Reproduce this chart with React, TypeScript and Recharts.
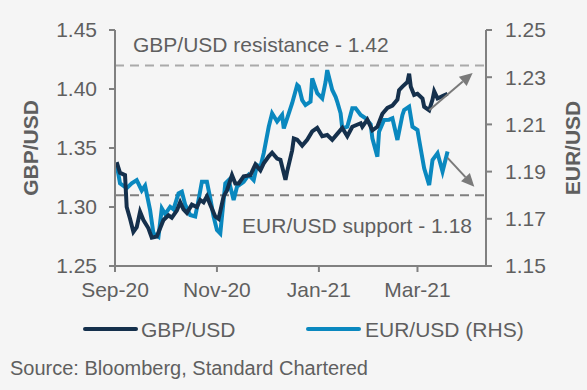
import { LineChart, Line, XAxis, YAxis, ReferenceLine } from "recharts";

const xTicks = [0, 61, 122, 181];
const xTickLabels = ["Sep-20", "Nov-20", "Jan-21", "Mar-21"];
const leftTicks = [1.25, 1.3, 1.35, 1.4, 1.45];
const rightTicks = [1.15, 1.17, 1.19, 1.21, 1.23, 1.25];

// days since 1 Sep 2020
const gbpDays = [
  1, 3, 6, 7, 9, 11, 13, 15, 17, 20, 22, 25, 27, 29, 32, 34, 37, 39, 41, 43, 46, 49, 51, 53, 55, 57,
  60, 62, 65, 67, 70, 72, 74, 77, 81, 84, 87, 89, 92, 94, 97, 99, 102, 103, 106, 107, 109, 112, 115,
  118, 121, 124, 127, 130, 133, 136, 139, 142, 147, 148, 151, 154, 157, 160, 163, 166, 169, 170, 172,
  175, 176, 177, 179, 181, 184, 185, 188, 190, 191, 193, 196, 199,
];
const gbpValues = [
  1.338, 1.329, 1.327, 1.3, 1.29, 1.279, 1.283, 1.296, 1.289, 1.282, 1.274, 1.275, 1.282, 1.289, 1.293,
  1.291, 1.297, 1.304, 1.298, 1.295, 1.302, 1.3, 1.306, 1.304, 1.309, 1.302, 1.292, 1.29, 1.309, 1.314,
  1.327, 1.32, 1.32, 1.326, 1.327, 1.336, 1.331, 1.337, 1.343, 1.346, 1.341, 1.34, 1.323, 1.33, 1.348,
  1.358, 1.357, 1.352, 1.357, 1.364, 1.367, 1.36, 1.361, 1.357, 1.362, 1.367, 1.36, 1.368, 1.371, 1.368,
  1.374, 1.365, 1.368, 1.379, 1.384, 1.386, 1.391, 1.399, 1.402, 1.406, 1.413, 1.402, 1.395, 1.396,
  1.392, 1.385, 1.382, 1.391, 1.398, 1.392, 1.394, 1.396,
];

const eurDays = [
  1, 3, 7, 10, 13, 16, 18, 21, 23, 26, 28, 30, 33, 35, 38, 40, 42, 45, 48, 50, 52, 55, 57, 59, 61, 63,
  66, 68, 71, 73, 77, 80, 83, 85, 87, 89, 92, 94, 97, 100, 101, 103, 106, 109, 110, 112, 114, 117, 118,
  121, 124, 126, 127, 130, 132, 133, 135, 136, 139, 142, 144, 147, 150, 153, 154, 157, 158, 161, 164,
  166, 169, 172, 173, 176, 178, 181, 182, 185, 188, 190, 193, 196, 199,
];
const eurValues = [
  1.193, 1.185, 1.183, 1.185, 1.1864, 1.182, 1.184, 1.1737, 1.1638, 1.1624, 1.1744, 1.172, 1.1751, 1.174,
  1.1808, 1.1815, 1.176, 1.1716, 1.171, 1.178, 1.1857, 1.1857, 1.1787, 1.1709, 1.1653, 1.1638, 1.185,
  1.1864, 1.178, 1.1836, 1.1857, 1.1886, 1.1864, 1.1928, 1.192, 1.1978, 1.209, 1.2147, 1.2112, 1.214,
  1.2083, 1.2126, 1.219, 1.2267, 1.226, 1.2203, 1.2182, 1.2196, 1.2295, 1.2232, 1.221, 1.228, 1.233,
  1.2246, 1.2217, 1.2196, 1.2147, 1.2083, 1.209, 1.2168, 1.2168, 1.214, 1.2126, 1.21, 1.2041, 1.1963,
  1.2069, 1.2119, 1.212, 1.2126, 1.2034, 1.214, 1.2161, 1.2175, 1.209, 1.2076, 1.2034, 1.1914, 1.1843,
  1.1949, 1.1978, 1.19, 1.1985,
];

const gbpData = gbpDays.map((d, i) => ({ day: d, gbp: gbpValues[i] }));
const eurData = eurDays.map((d, i) => ({ day: d, eur: eurValues[i] }));

const FONT = "'Liberation Sans', Arial, Helvetica, sans-serif";
const TEXT = "#5f5f5f";
const AXIS = "#808080";

const arrowShape = (props: any) => {
  const { x1, y1, x2, y2 } = props;
  const a = Math.atan2(y2 - y1, x2 - x1);
  const len = 13;
  const w = 6;
  const bx = x2 - len * Math.cos(a);
  const by = y2 - len * Math.sin(a);
  const p1 = `${bx + w * Math.sin(a)},${by - w * Math.cos(a)}`;
  const p2 = `${bx - w * Math.sin(a)},${by + w * Math.cos(a)}`;
  return (
    <g>
      <line x1={x1} y1={y1} x2={bx} y2={by} stroke="#7a7a7a" strokeWidth={2} />
      <polygon points={`${x2},${y2} ${p1} ${p2}`} fill="#7a7a7a" />
    </g>
  );
};

export default function App() {
  return (
    <div
      style={{
        position: "relative",
        width: 587,
        height: 390,
        background: "#f5f5f5",
        fontFamily: FONT,
        color: TEXT,
        overflow: "hidden",
      }}
    >
      <style>{"body{margin:0}"}</style>
      <LineChart width={587} height={310} margin={{ top: 30, right: 0, left: 0, bottom: 0 }}>
        <XAxis
          dataKey="day"
          type="number"
          domain={[0, 222]}
          ticks={xTicks}
          tickFormatter={(v: number) => xTickLabels[xTicks.indexOf(v)] ?? ""}
          height={44}
          tickSize={6}
          tickMargin={10}
          axisLine={{ stroke: AXIS, strokeWidth: 2 }}
          tickLine={{ stroke: AXIS, strokeWidth: 2 }}
          tick={{ fill: TEXT, fontSize: 21, fontFamily: FONT }}
          allowDataOverflow
        />
        <YAxis
          yAxisId="left"
          domain={[1.25, 1.45]}
          ticks={leftTicks}
          tickFormatter={(v: number) => v.toFixed(2)}
          width={115}
          tickSize={6}
          tickMargin={12}
          axisLine={{ stroke: AXIS, strokeWidth: 2 }}
          tickLine={{ stroke: AXIS, strokeWidth: 2 }}
          tick={{ fill: TEXT, fontSize: 21, fontFamily: FONT }}
          allowDataOverflow
        />
        <YAxis
          yAxisId="right"
          orientation="right"
          domain={[1.15, 1.25]}
          ticks={rightTicks}
          tickFormatter={(v: number) => v.toFixed(2)}
          width={101}
          tickSize={6}
          tickMargin={13}
          axisLine={{ stroke: AXIS, strokeWidth: 2 }}
          tickLine={{ stroke: AXIS, strokeWidth: 2 }}
          tick={{ fill: TEXT, fontSize: 21, fontFamily: FONT, textAnchor: "start" }}
          allowDataOverflow
        />
        <ReferenceLine yAxisId="left" y={1.42} stroke="#aaaaaa" strokeWidth={2} strokeDasharray="9 6" />
        <ReferenceLine yAxisId="left" y={1.31} stroke="#7f7f7f" strokeWidth={2} strokeDasharray="9 6" />
        <Line
          yAxisId="right"
          data={eurData}
          dataKey="eur"
          type="linear"
          stroke="#0a88bf"
          strokeWidth={4}
          dot={false}
          isAnimationActive={false}
        />
        <Line
          yAxisId="left"
          data={gbpData}
          dataKey="gbp"
          type="linear"
          stroke="#15304c"
          strokeWidth={4}
          dot={false}
          isAnimationActive={false}
        />
        <ReferenceLine
          yAxisId="left"
          segment={[
            { x: 188, y: 1.382 },
            { x: 214, y: 1.4136 },
          ]}
          shape={arrowShape}
        />
        <ReferenceLine
          yAxisId="right"
          segment={[
            { x: 199, y: 1.1958 },
            { x: 215, y: 1.1836 },
          ]}
          shape={arrowShape}
        />
      </LineChart>

      <svg
        width={587}
        height={390}
        style={{ position: "absolute", left: 0, top: 0, pointerEvents: "none" }}
      >
        <text x={133} y={52} fontSize={21} fill={TEXT} fontFamily={FONT}>
          GBP/USD resistance - 1.42
        </text>
        <text x={472} y={233} fontSize={21} fill={TEXT} fontFamily={FONT} textAnchor="end">
          EUR/USD support - 1.18
        </text>
        <text
          x={30}
          y={148}
          fontSize={21}
          fontWeight="bold"
          fill={TEXT}
          fontFamily={FONT}
          textAnchor="middle"
          dominantBaseline="central"
          transform="rotate(-90 30 148)"
        >
          GBP/USD
        </text>
        <text
          x={572}
          y={148}
          fontSize={21}
          fontWeight="bold"
          fill={TEXT}
          fontFamily={FONT}
          textAnchor="middle"
          dominantBaseline="central"
          transform="rotate(-90 572 148)"
        >
          EUR/USD
        </text>
        <line x1={85} y1={329} x2={136} y2={329} stroke="#15304c" strokeWidth={4} strokeLinecap="round" />
        <text x={141} y={329} fontSize={21} fill={TEXT} fontFamily={FONT} dominantBaseline="central">
          GBP/USD
        </text>
        <line x1={308} y1={329} x2={359} y2={329} stroke="#0a88bf" strokeWidth={4} strokeLinecap="round" />
        <text x={365} y={329} fontSize={21} fill={TEXT} fontFamily={FONT} dominantBaseline="central">
          EUR/USD (RHS)
        </text>
        <text x={10} y={368} fontSize={20} fill={TEXT} fontFamily={FONT} dominantBaseline="central">
          Source: Bloomberg, Standard Chartered
        </text>
      </svg>
    </div>
  );
}
